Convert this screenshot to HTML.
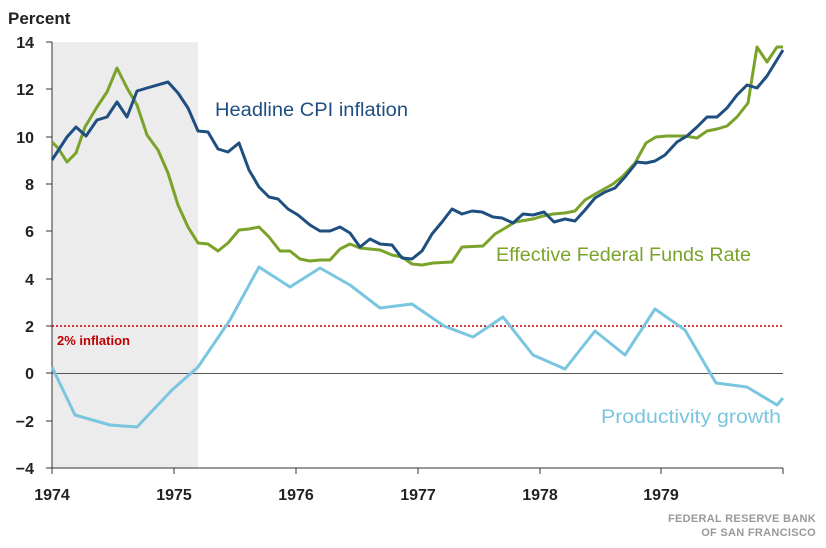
<!DOCTYPE html><html><head><style>body{margin:0;background:#fff}svg{display:block;font-family:"Liberation Sans",sans-serif}</style></head><body>
<svg width="826" height="548" viewBox="0 0 826 548">
<rect x="52" y="42" width="146" height="426" fill="#ececec"/>
<line x1="52" y1="42" x2="52" y2="468" stroke="#333" stroke-width="1"/>
<g stroke="#333" stroke-width="1">
<line x1="46" y1="42" x2="52" y2="42"/><line x1="46" y1="89" x2="52" y2="89"/><line x1="46" y1="137" x2="52" y2="137"/><line x1="46" y1="184" x2="52" y2="184"/><line x1="46" y1="231" x2="52" y2="231"/><line x1="46" y1="279" x2="52" y2="279"/><line x1="46" y1="326" x2="52" y2="326"/><line x1="46" y1="373" x2="52" y2="373"/><line x1="46" y1="421" x2="52" y2="421"/><line x1="46" y1="468" x2="52" y2="468"/>
</g>
<line x1="52" y1="373.5" x2="783" y2="373.5" stroke="#555" stroke-width="1"/>
<line x1="52" y1="468" x2="783" y2="468" stroke="#333" stroke-width="1"/>
<g stroke="#333"><line x1="52" y1="468" x2="52" y2="474"/><line x1="174" y1="468" x2="174" y2="474"/><line x1="296" y1="468" x2="296" y2="474"/><line x1="418" y1="468" x2="418" y2="474"/><line x1="540" y1="468" x2="540" y2="474"/><line x1="661" y1="468" x2="661" y2="474"/><line x1="783" y1="468" x2="783" y2="474"/></g>
<line x1="52" y1="326" x2="783" y2="326" stroke="#c00000" stroke-width="1.5" stroke-dasharray="2,2"/>
<g font-size="16" fill="#222" text-anchor="end" font-weight="bold">
<text x="34" y="48">14</text><text x="34" y="95">12</text><text x="34" y="143">10</text><text x="34" y="190">8</text><text x="34" y="237">6</text><text x="34" y="285">4</text><text x="34" y="332">2</text><text x="34" y="379">0</text><text x="34" y="427">−2</text><text x="34" y="474">−4</text>
</g>
<text x="8" y="24" font-size="17" fill="#222" font-weight="bold">Percent</text>
<g font-size="16" fill="#222" text-anchor="middle" font-weight="bold">
<text x="52" y="500">1974</text><text x="174" y="500">1975</text><text x="296" y="500">1976</text><text x="418" y="500">1977</text><text x="540" y="500">1978</text><text x="661" y="500">1979</text>
</g>
<text x="57" y="345" font-size="13" fill="#c00000" font-weight="bold">2% inflation</text>
<polyline fill="none" stroke="#7ac5e0" stroke-width="3" stroke-linejoin="round" points="52,367 75,415 110,425 137,427 172,390 198,367 230,320 259,267 290,287 320,268 350,285 380,308 412,304 444,326 473,337 503,317 533,355 565,369 595,331 625,355 655,309 685,330 716,383 747,387 777,405 783,398"/>
<polyline fill="none" stroke="#7aa32a" stroke-width="3" stroke-linejoin="round" points="52,142 58,148 67,162 76,153 85,127 97,107 107,92 117,68 127,88 137,105 147,135 158,150 168,173 178,205 188,227 198,243 208,244 218,251 228,243 239,230 249,229 259,227 269,237 280,251 290,251 300,259 310,261 320,260 330,260 340,249 350,244 360,248 370,249 380,250 392,255 402,257 412,264 422,265 433,263 452,262 462,247 483,246 495,234 507,227 515,222 533,219 543,216 553,214 565,213 575,211 585,200 597,193 613,184 623,176 635,163 646,143 656,137 667,136 685,136 697,138 707,131 717,129 727,126 737,117 748,103 757,47 767,62 777,47 783,47"/>
<polyline fill="none" stroke="#1f4e80" stroke-width="3" stroke-linejoin="round" points="52,160 67,137 76,127 86,136 97,120 107,117 117,102 127,117 137,91 147,88 168,82 178,93 188,108 198,131 208,132 218,149 228,152 239,143 249,170 259,187 269,197 278,199 288,209 298,215 310,225 320,231 330,231 340,227 350,233 360,247 370,239 380,244 392,245 402,258 412,259 422,251 432,234 442,222 452,209 462,214 472,211 482,212 493,217 502,218 513,223 523,214 533,215 544,212 554,222 565,219 575,221 585,210 595,198 605,192 615,188 625,177 637,162 646,163 655,161 665,155 677,142 687,136 697,127 707,117 717,117 727,108 737,95 747,85 757,88 767,76 783,50"/>
<text x="215" y="116" font-size="19" fill="#1f4e80" textLength="193" lengthAdjust="spacingAndGlyphs">Headline CPI inflation</text>
<text x="496" y="261" font-size="19" fill="#7aa32a" textLength="255" lengthAdjust="spacingAndGlyphs">Effective Federal Funds Rate</text>
<text x="601" y="423" font-size="19" fill="#7ac5e0" textLength="180" lengthAdjust="spacingAndGlyphs">Productivity growth</text>
<text x="816" y="522" font-size="11" fill="#999" text-anchor="end" font-weight="bold" letter-spacing="0.3">FEDERAL RESERVE BANK</text>
<text x="816" y="536" font-size="11" fill="#999" text-anchor="end" font-weight="bold" letter-spacing="0.3">OF SAN FRANCISCO</text>
</svg></body></html>
